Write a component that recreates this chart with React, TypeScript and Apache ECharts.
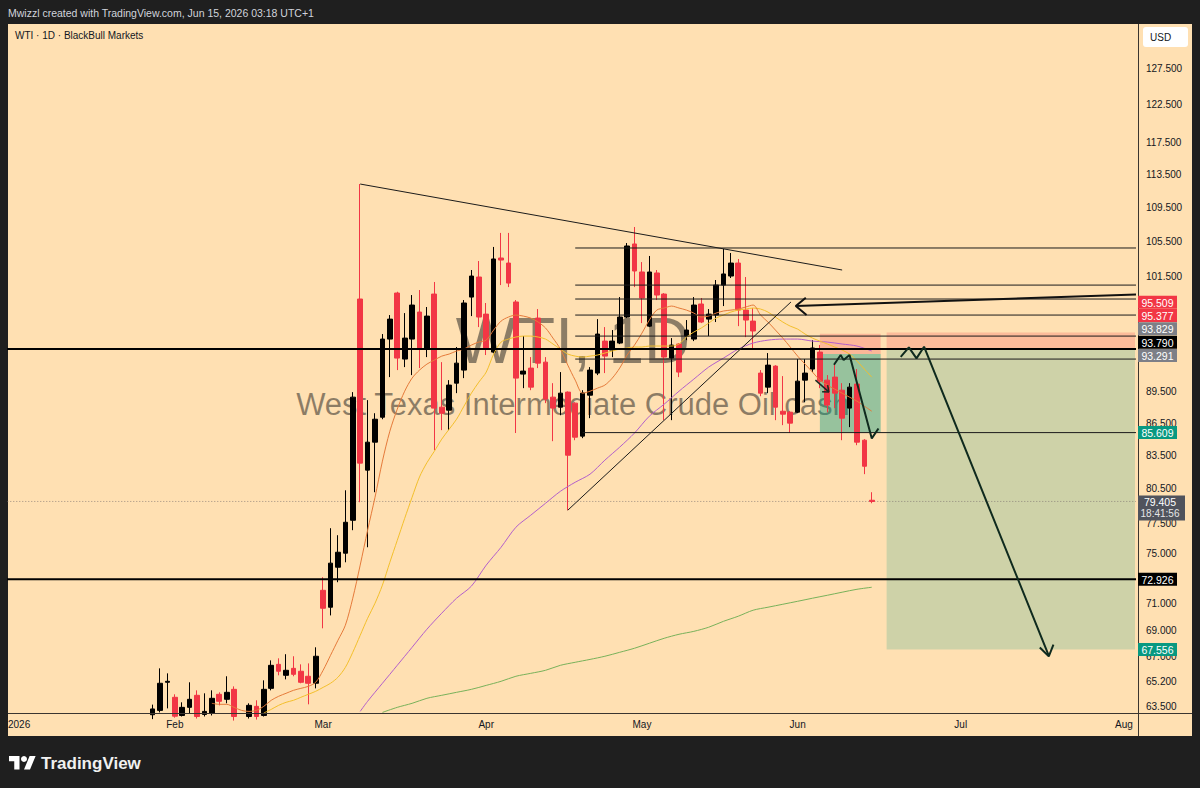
import React, { useEffect, useRef } from "react";
import * as echarts from "echarts";

// ---------- categories ----------
const FIRST_DAY = "2025-12-31";
const LAST_DAY = "2026-08-04";
const HOLIDAYS = ["2026-01-01", "2026-04-03", "2026-07-03"];
const MONTH_NAMES = ["2026", "Feb", "Mar", "Apr", "May", "Jun", "Jul", "Aug"];
const PRICE_TICKS = [127.5, 122.5, 117.5, 113.5, 109.5, 105.5, 101.5, 89.5, 86.5, 83.5, 80.5, 77.5, 75, 71, 69, 67, 65.2, 63.5];
const Y_MIN = 63.02;
const Y_MAX = 133.78;

// ---------- candles (daily, from 2026-01-28) ----------
const CANDLE_START = "2026-01-28";
const opens = [62.9, 63.2, 65.17,
  64.11, 62.85, 63.41, 64.25, 62.92, 62.99, 64.32, 63.97, 64.67, 62.78,
  62.78, 63.48, 62.85, 64.74, 66.46, 65.67, 66.17, 65.96, 65.6, 65.1,
  72.06, 70.74, 73.9, 75.04, 77.79, 99.06, 82.17, 84.72, 87.06, 94.82,
  99.71, 92.77, 94.82, 97.66, 93.9, 99.6, 88.02, 87.73, 90.36, 91.66,
  99.27, 101.47, 97.44, 93.48, 103.6, 103.03, 98.74, 91.26, 91.86, 97.02,
  92.46, 88.99, 88.02, 89.48, 88.41, 85.28, 89.18, 91.36, 94.61, 93.69,
  94.41, 97.13, 105.2, 102.03, 96.17, 101.92, 99.6, 92.87, 94.31, 95.13,
  94.82, 98.52, 96.91, 97.34, 100.58, 101.58, 103.03, 97.87, 96.7, 91.36,
  89.97, 92.06, 87.63, 87.54, 87.54, 90.66, 91.76, 93.48, 90.66, 90.96,
  89.67, 87.93, 90.27, 84.9, 79.51];
const highs = [63.6, 66.17, 65.81,
  64.32, 63.76, 65.17, 64.6, 64.39, 64.6, 64.46, 65.6, 64.88, 62.92,
  63.69, 63.9, 65.31, 66.75, 66.9, 67.2, 67.05, 66.46, 66.53, 67.71,
  73.1, 77.12, 76.53, 80.38, 89.48, 112.32, 88.7, 87.44, 95.34, 97.34,
  99.85, 97.55, 99.49, 100.04, 98.2, 100.92, 92.46, 90.66, 94.0, 98.95,
  102.25, 103.26, 98.63, 104.86, 106.48, 106.48, 98.95, 95.13, 92.97, 97.98,
  92.97, 90.36, 91.46, 89.55, 88.5, 89.67, 91.96, 96.91, 96.07, 95.76,
  99.27, 105.31, 107.17, 103.14, 103.83, 102.25, 99.7, 94.92, 94.4, 96.81,
  99.27, 99.17, 97.98, 101.14, 104.63, 104.17, 103.49, 101.47, 98.09, 91.66,
  93.38, 92.15, 91.06, 87.65, 92.77, 92.77, 94.71, 94.2, 91.16, 92.36,
  90.36, 90.36, 91.76, 85.0, 80.21];
const lows = [62.6, 63.06, 63.34,
  62.7, 62.78, 62.99, 62.64, 62.78, 62.85, 63.55, 63.69, 62.5, 62.1,
  62.64, 62.57, 62.78, 64.6, 65.67, 65.38, 65.6, 65.1, 63.62, 64.74,
  69.13, 70.11, 72.7, 74.3, 76.95, 79.34, 75.53, 80.21, 86.87, 90.96,
  91.66, 91.96, 91.16, 91.86, 92.97, 83.98, 85.84, 85.84, 89.38, 90.86,
  97.23, 96.07, 93.18, 93.38, 100.58, 100.36, 85.57, 89.87, 89.67, 91.86,
  88.41, 84.81, 87.25, 78.65, 84.9, 85.09, 86.97, 91.16, 91.36, 92.97,
  94.3, 97.02, 100.36, 96.49, 96.07, 98.95, 86.78, 86.78, 90.96, 94.71,
  94.61, 96.49, 95.13, 96.6, 98.3, 101.36, 96.17, 95.02, 93.9, 89.08,
  89.38, 86.78, 86.31, 85.57, 87.45, 88.51, 91.46, 89.87, 87.54, 87.93,
  84.9, 86.12, 84.44, 81.81, 79.25];
const closes = [63.3, 65.1, 65.24,
  62.8, 63.41, 63.97, 62.78, 63.13, 64.04, 63.83, 64.46, 62.78, 62.37,
  63.55, 62.78, 64.67, 66.39, 65.96, 66.03, 65.74, 65.17, 65.1, 67.05,
  70.66, 74.23, 75.12, 77.62, 88.99, 82.8, 84.72, 86.87, 94.82, 96.91,
  92.87, 94.92, 98.41, 93.9, 97.23, 87.93, 87.44, 90.17, 92.36, 98.63,
  101.58, 97.13, 93.9, 103.49, 103.37, 100.8, 90.86, 91.56, 89.97, 92.36,
  88.8, 87.93, 89.38, 83.52, 85.18, 89.38, 91.66, 95.34, 93.07, 94.61,
  97.13, 104.97, 102.14, 99.17, 102.03, 99.49, 92.97, 94.2, 91.46, 95.76,
  98.41, 96.6, 97.44, 100.58, 101.81, 103.03, 97.87, 96.81, 95.66, 89.38,
  92.16, 88.02, 87.35, 86.5, 90.56, 91.36, 93.9, 90.56, 88.22, 89.38,
  86.97, 89.97, 84.72, 82.52, 79.405];

// ---------- moving averages: [bars after 2026-02-02, price] ----------
const BASE_DATE = "2026-02-02";
const maFast = [[5,63.69],[6,63.62],[7,63.62],[8,63.41],[9,63.2],[10,63.13],[11,63.2],[12,63.48],[13,63.9],[14,64.18],[15,64.39],[16,64.6],[17,64.74],[18,64.88],[19,65.17],[20,66.03],[21,67.12],[22,68.23],[23,69.36],[24,71.44],[25,74.07],[26,76.95],[27,79.77],[28,82.98],[29,85.74],[30,87.83],[31,89.57],[32,90.86],[33,91.66],[34,92.26],[35,92.67],[36,93.07],[37,93.28],[38,93.59],[39,93.79],[40,94.2],[41,94.51],[42,94.71],[43,95.76],[44,96.7],[45,97.13],[46,97.34],[47,97.23],[48,97.02],[49,96.6],[50,95.97],[51,94.92],[52,93.79],[53,92.16],[54,90.66],[55,89.38],[56,89.57],[57,89.87],[58,90.17],[59,90.86],[60,91.86],[61,93.18],[62,94.2],[63,95.44],[64,96.81],[65,97.87],[66,98.09],[67,98.3],[68,98.09],[69,97.87],[70,97.55],[71,97.13],[72,97.23],[73,97.55],[74,97.77],[75,97.87],[76,97.98],[77,98.2],[78,98.41],[79,97.34],[80,96.6],[81,95.76],[82,94.92],[83,94.0],[84,93.07],[85,92.26],[86,91.46],[87,90.66],[88,90.17],[89,89.77],[90,89.38],[91,88.99],[92,88.6],[93,88.12],[94,87.63]];
const maMid = [[12,63.02],[13,63.27],[14,63.55],[15,63.76],[16,63.9],[17,64.11],[18,64.32],[19,64.53],[20,64.81],[21,65.1],[22,65.53],[23,66.24],[24,67.34],[25,68.6],[26,69.89],[27,71.05],[28,72.47],[29,74.3],[30,76.1],[31,77.95],[32,79.77],[33,81.56],[34,82.84],[35,83.88],[36,85.0],[37,85.93],[38,86.87],[39,88.12],[40,89.38],[41,90.46],[42,91.46],[43,93.28],[44,94.51],[45,94.82],[46,95.03],[47,95.13],[48,95.13],[49,95.03],[50,94.82],[51,94.31],[52,93.79],[53,93.28],[54,93.07],[55,92.97],[56,93.07],[57,93.18],[58,93.38],[59,93.59],[60,93.79],[61,93.9],[62,94.0],[63,94.0],[64,94.1],[65,94.1],[66,94.1],[67,94.1],[68,94.31],[69,95.03],[70,95.55],[71,95.97],[72,96.49],[73,97.02],[74,97.34],[75,97.66],[76,97.87],[77,97.98],[78,98.09],[79,97.98],[80,97.66],[81,97.13],[82,96.6],[83,96.17],[84,95.86],[85,95.34],[86,94.92],[87,94.61],[88,94.31],[89,94.0],[90,93.69],[91,93.28],[92,92.57],[93,91.76],[94,90.96]];
const maSlow = [[25,63.13],[26,63.83],[28,65.1],[30,66.39],[32,67.71],[34,69.06],[36,70.28],[38,71.44],[40,72.39],[42,74.07],[44,75.53],[46,77.2],[48,78.22],[50,79.25],[52,80.29],[54,81.09],[56,81.81],[58,83.07],[60,84.26],[62,85.57],[64,87.16],[66,88.31],[68,89.57],[70,90.76],[72,91.96],[74,92.87],[76,93.79],[78,94.41],[80,94.71],[82,94.82],[84,94.82],[86,94.61],[88,94.51],[90,94.31],[92,94.1],[94,93.59]];
const maLong = [[28,63.06],[30,63.41],[32,63.69],[34,64.04],[36,64.25],[38,64.46],[40,64.67],[42,64.95],[44,65.24],[46,65.6],[48,65.81],[50,66.03],[52,66.39],[54,66.61],[56,66.82],[58,67.05],[60,67.34],[62,67.64],[64,68.01],[66,68.38],[68,68.68],[70,68.9],[72,69.21],[74,69.66],[76,70.05],[78,70.51],[80,70.74],[82,70.97],[84,71.2],[86,71.44],[88,71.67],[90,71.91],[92,72.14],[94,72.3]];

// ---------- drawings: [bars after 2026-02-02, price] ----------
const trendTop = [[25, 112.32], [90, 102.25]];
const trendRise = [[53, 78.65], [83.1, 98.74]];
const arrowShaft = [[83.75, 98.3], [131, 99.6]];
const arrowHead = [[85.1, 99.2], [83.75, 98.3], [85.2, 97.34]];
const smallArrow = [[86.4, 90.66], [88.2, 89.5]];
const smallArrowHead = [[87.3, 89.52], [88.2, 89.5], [88.05, 90.17]];
const smallPath = [[88.9, 92.2], [89.8, 93.18], [90.2, 92.67], [91.0, 93.18], [94.0, 85.07], [94.9, 86.0]];
const bigPath = [[97.9, 93.0], [99.0, 93.97], [100.03, 92.84], [101.05, 94.03], [117.87, 67.1]];
const bigHead = [[116.66, 67.7], [117.87, 67.05], [118.5, 67.9]];
const thickLevels = [93.79, 72.926];
const thinLevels = [104.74, 100.58, 99.06, 97.34, 95.13, 92.77, 85.609];
const thinStarts = [54, 54, 54, 54, 54, 54, 55];
const LAST_PRICE = 79.405;
const LAST_TIME = "18:41:56";

// ---------- position tools ----------
const posFrom = [87, 96];
const posTo = [95.2, 132];
const posStop = [95.377, 95.509];
const posEntry = [93.291, 93.829];
const posTarget = [85.609, 67.556];
const posStopFill = ["rgba(242,54,69,0.24)", "rgba(242,54,69,0.22)"];
const posTargetFill = ["rgba(8,153,129,0.42)", "rgba(8,153,129,0.2)"];

// ---------- price tags ----------
const stackValues = [95.509, 95.377, 93.829, 93.79, 93.291];
const stackColors = ["#f23645", "#f23645", "#7d7f87", "#000000", "#7d7f87"];
const soloValues = [85.609, 72.926, 67.556];
const soloColors = ["#089981", "#000000", "#089981"];

const FONT = '"Liberation Sans", Arial, sans-serif';

echarts.graphic.registerShape(
  "tvlogo",
  echarts.graphic.extendPath("M14 22H7V11H0V4h14v18zM28 22h-8l7.5-18h8L28 22z", {})
);

function buildDates(): string[] {
  const out: string[] = [];
  const d = new Date(FIRST_DAY + "T00:00:00Z");
  const end = new Date(LAST_DAY + "T00:00:00Z").getTime();
  while (d.getTime() <= end) {
    const wd = d.getUTCDay();
    const s = d.toISOString().slice(0, 10);
    if (wd !== 0 && wd !== 6 && HOLIDAYS.indexOf(s) < 0) out.push(s);
    d.setUTCDate(d.getUTCDate() + 1);
  }
  return out;
}

export default function App() {
  const ref = useRef<HTMLDivElement>(null);

  useEffect(() => {
    if (!ref.current) return;
    const chart = echarts.init(ref.current, null, { renderer: "svg" });
    const L = Math.log;
    const dates = buildDates();
    const N = dates.length;
    const kBase = dates.indexOf(BASE_DATE);
    const kStart = dates.indexOf(CANDLE_START);
    const monthLabel: Record<number, string> = {};
    let prevMonth = "";
    dates.forEach((s, k) => {
      const ym = s.slice(0, 7);
      if (ym !== prevMonth && s.startsWith("2026")) {
        monthLabel[k] = MONTH_NAMES[parseInt(s.slice(5, 7), 10) - 1];
      }
      prevMonth = ym;
    });

    const pts = (arr: number[][]) => arr.map((p) => [kBase + p[0], L(p[1])]);
    const candleRows = opens.map((o, j) => [kStart + j, L(o), L(closes[j]), L(lows[j]), L(highs[j])]);

    const lineSeries = (data: number[][], color: string, width: number, z: number, extra: any = {}) => ({
      type: "line",
      xAxisIndex: 1,
      yAxisIndex: 0,
      data,
      symbol: "none",
      silent: true,
      z,
      lineStyle: { color, width, ...(extra.lineStyle || {}) },
      smooth: extra.smooth || false,
      clip: true,
      animation: false,
    });

    const series: any[] = [];
    const toolRects: number[][] = [];
    const toolFills: string[] = [];
    posFrom.forEach((f, t) => {
      toolRects.push([kBase + f, kBase + posTo[t], L(posStop[t]), L(posEntry[t]), toolFills.length]);
      toolFills.push(posStopFill[t]);
      toolRects.push([kBase + f, kBase + posTo[t], L(posEntry[t]), L(posTarget[t]), toolFills.length]);
      toolFills.push(posTargetFill[t]);
    });
    series.push({
      type: "custom",
      xAxisIndex: 1,
      yAxisIndex: 0,
      z: 1,
      silent: true,
      data: toolRects,
      encode: { x: [0, 1], y: [2, 3] },
      renderItem: (params: any, api: any) => {
        const p1 = api.coord([api.value(0), api.value(2)]);
        const p2 = api.coord([api.value(1), api.value(3)]);
        const cs = params.coordSys;
        const shape = echarts.graphic.clipRectByRect(
          { x: p1[0], y: p1[1], width: p2[0] - p1[0], height: p2[1] - p1[1] },
          { x: cs.x, y: cs.y, width: cs.width, height: cs.height }
        );
        if (!shape) return null;
        return { type: "rect", shape, style: { fill: toolFills[api.value(4)] } };
      },
    });
    series.push(lineSeries([[-1, L(LAST_PRICE)], [N + 1, L(LAST_PRICE)]], "rgba(120,110,110,0.7)", 1, 2, { lineStyle: { type: [1, 2] } }));
    series.push({
      type: "candlestick",
      xAxisIndex: 0,
      yAxisIndex: 0,
      data: candleRows,
      encode: { x: 0, y: [1, 2, 3, 4] },
      barWidth: "70%",
      z: 4,
      silent: true,
      clip: true,
      itemStyle: {
        color: "#000000",
        color0: "#f23645",
        borderColor: "#000000",
        borderColor0: "#f23645",
        borderWidth: 1,
      },
    });
    series.push(lineSeries(pts(maLong), "#78b15a", 1, 5, { smooth: 0.3 }));
    series.push(lineSeries(pts(maSlow), "#b35fcb", 1, 5, { smooth: 0.3 }));
    series.push(lineSeries(pts(maMid), "#f3bf2c", 1, 5, { smooth: 0.3 }));
    series.push(lineSeries(pts(maFast), "#e57a3a", 1, 5, { smooth: 0.3 }));
    thickLevels.forEach((v) => series.push(lineSeries([[-2, L(v)], [N + 2, L(v)]], "#000000", 2, 6)));
    thinLevels.forEach((v, j) => series.push(lineSeries([[kBase + thinStarts[j], L(v)], [N + 2, L(v)]], "#1b1b1b", 1, 6)));
    series.push(lineSeries(pts(trendTop), "#1b1b1b", 1, 6));
    series.push(lineSeries(pts(trendRise), "#1b1b1b", 1, 6));
    series.push(lineSeries(pts(arrowShaft), "#111111", 2, 6));
    series.push(lineSeries(pts(arrowHead), "#111111", 2, 6));
    series.push(lineSeries(pts(smallArrow), "#1b2a22", 1.5, 6));
    series.push(lineSeries(pts(smallArrowHead), "#1b2a22", 1.5, 6));
    series.push(lineSeries(pts(smallPath), "#0f2a1e", 2, 6));
    series.push(lineSeries(pts(bigPath), "#0f2a1e", 2, 6));
    series.push(lineSeries(pts(bigHead), "#0f2a1e", 2, 6));

    const option: any = {
      animation: false,
      backgroundColor: "#1f1f1f",
      textStyle: { fontFamily: FONT },
      grid: { left: 8, top: 24, width: 1127, height: 689, containLabel: false, outerBoundsMode: "none" },
      xAxis: [
        {
          type: "category",
          data: dates,
          boundaryGap: true,
          axisLine: { show: false },
          axisTick: { show: false },
          splitLine: { show: false },
          axisLabel: {
            interval: (idx: number) => monthLabel[idx] !== undefined,
            formatter: (_v: string, idx: number) => monthLabel[idx] || "",
            color: "#131722",
            fontSize: 10,
            fontFamily: FONT,
            margin: 6,
          },
        },
        { type: "value", min: -0.5, max: N - 0.5, show: false },
      ],
      yAxis: [
        {
          type: "value",
          position: "right",
          min: L(Y_MIN),
          max: L(Y_MAX),
          axisLine: { show: false },
          axisTick: { show: false },
          splitLine: { show: false },
          axisLabel: {
            customValues: PRICE_TICKS.map((v) => L(v)),
            formatter: (v: number) => Math.exp(v).toFixed(3),
            color: "#131722",
            fontSize: 10,
            fontFamily: FONT,
            margin: 11,
            align: "left",
          },
        },
      ],
      series,
    };
    chart.setOption(option);

    const yPix = (v: number) => chart.convertToPixel({ yAxisIndex: 0 }, L(v)) as unknown as number;

    const tag = (cy: number, text: string, fill: string) => ({
      type: "group",
      z: 100,
      children: [
        { type: "rect", z: 100, shape: { x: 1138, y: cy - 6.5, width: 39, height: 13 }, style: { fill } },
        {
          type: "text",
          z: 101,
          x: 1157.5,
          y: cy + 0.5,
          style: { text, fill: "#ffffff", fontSize: 10.5, fontFamily: FONT, align: "center", verticalAlign: "middle" },
        },
      ],
    });

    const tags: any[] = [];
    const order = stackValues.map((v, j) => ({ j, y: yPix(v) })).sort((a, b) => b.y - a.y);
    let prev = Infinity;
    order.forEach((o) => {
      const cy = Math.min(o.y + 1.5, prev - 13.3);
      prev = cy;
      tags.push(tag(cy, stackValues[o.j].toFixed(3), stackColors[o.j]));
    });
    soloValues.forEach((v, j) => tags.push(tag(yPix(v), v.toFixed(3), soloColors[j])));
    const lp = yPix(LAST_PRICE);
    tags.push({
      type: "group",
      z: 100,
      children: [
        { type: "rect", z: 100, shape: { x: 1138, y: lp - 6, width: 47, height: 25 }, style: { fill: "#50535c" } },
        { type: "text", z: 101, x: 1160, y: lp + 1, style: { text: LAST_PRICE.toFixed(3), fill: "#ffffff", fontSize: 10.5, fontFamily: FONT, align: "center", verticalAlign: "middle" } },
        { type: "text", z: 101, x: 1160, y: lp + 12.5, style: { text: LAST_TIME, fill: "#e6e6e6", fontSize: 10, fontFamily: FONT, align: "center", verticalAlign: "middle" } },
      ],
    });

    const graphics: any[] = [
      { type: "rect", z: -10, silent: true, shape: { x: 8, y: 24, width: 1184, height: 712 }, style: { fill: "#FFE0B2" } },
      {
        type: "text", z: -5, silent: true, x: 573, y: 341,
        style: { text: "WTI, 1D", fill: "rgba(25,25,25,0.5)", fontSize: 64, fontFamily: FONT, align: "center", verticalAlign: "middle" },
      },
      {
        type: "text", z: -5, silent: true, x: 573, y: 404,
        style: { text: "West Texas Intermediate Crude Oil cash", fill: "rgba(25,25,25,0.5)", fontSize: 31, fontFamily: FONT, align: "center", verticalAlign: "middle" },
      },
      {
        type: "text", z: 20, x: 8, y: 13,
        style: { text: "Mwizzl created with TradingView.com, Jun 15, 2026 03:18 UTC+1", fill: "#d1d4dc", fontSize: 10.5, fontFamily: FONT, verticalAlign: "middle" },
      },
      {
        type: "text", z: 20, x: 15, y: 35,
        style: { text: "WTI · 1D · BlackBull Markets", fill: "#131722", fontSize: 10, fontFamily: FONT, verticalAlign: "middle" },
      },
      { type: "line", z: 30, silent: true, shape: { x1: 1138.5, y1: 24, x2: 1138.5, y2: 736 }, style: { stroke: "#3a3530", lineWidth: 1 } },
      { type: "line", z: 30, silent: true, shape: { x1: 8, y1: 713.5, x2: 1192, y2: 713.5 }, style: { stroke: "#3a3530", lineWidth: 1 } },
      { type: "rect", z: 30, shape: { x: 1143, y: 27, width: 45, height: 20, r: 3 }, style: { fill: "#ffffff" } },
      { type: "text", z: 31, x: 1150, y: 37.5, style: { text: "USD", fill: "#131722", fontSize: 10, fontFamily: FONT, verticalAlign: "middle" } },
      { type: "tvlogo", z: 30, x: 9, y: 753, scaleX: 0.75, scaleY: 0.75, style: { fill: "#ffffff" } },
      { type: "circle", z: 30, shape: { cx: 9 + 20 * 0.75, cy: 753 + 8 * 0.75, r: 4 * 0.75 }, style: { fill: "#ffffff" } },
      {
        type: "text", z: 30, x: 41, y: 763,
        style: { text: "TradingView", fill: "#f0f0f0", fontSize: 17, fontWeight: "bold", fontFamily: FONT, verticalAlign: "middle" },
      },
      ...tags,
    ];
    chart.setOption({ graphic: { elements: graphics } });

    return () => chart.dispose();
  }, []);

  return (
    <div
      ref={ref}
      style={{ position: "fixed", left: 0, top: 0, width: 1200, height: 788 }}
    />
  );
}
